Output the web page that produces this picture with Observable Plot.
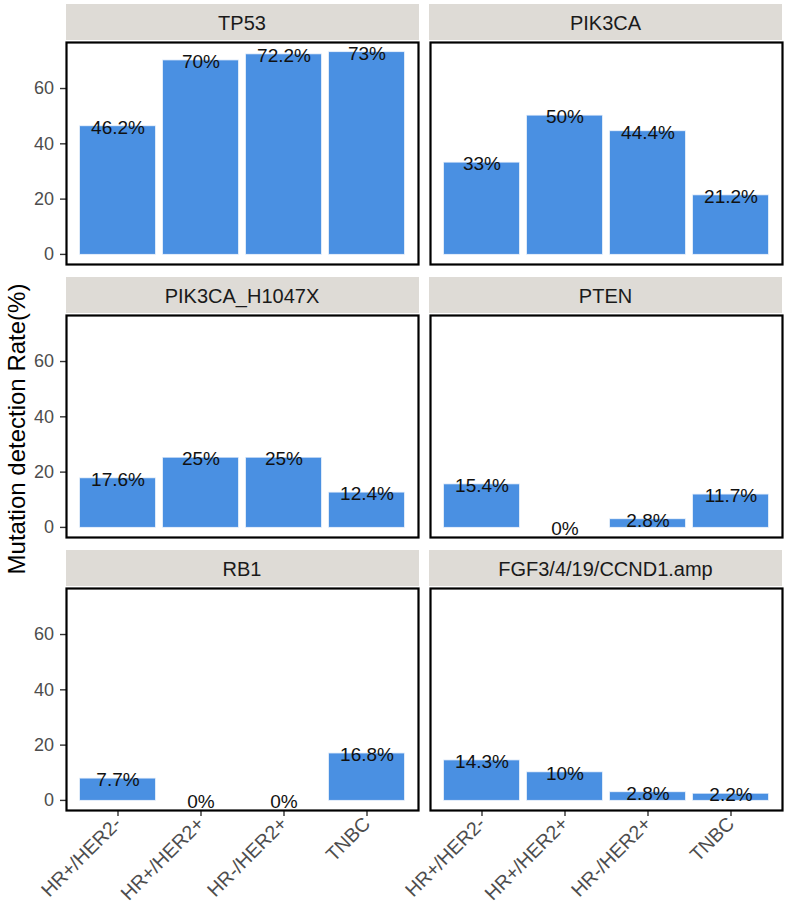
<!DOCTYPE html>
<html>
<head>
<meta charset="utf-8">
<script src="https://cdn.jsdelivr.net/npm/d3@7"></script>
<script src="https://cdn.jsdelivr.net/npm/@observablehq/plot@0.6"></script>
<style>
  html, body { margin: 0; padding: 0; background: #fff; }
  #root { position: relative; width: 785px; height: 911px; font-family: "Liberation Sans", Arial, sans-serif; overflow: hidden; }
  .strip { position: absolute; background: #dedbd6; color: #1a1a1a; font-size: 20px; display: flex; align-items: center; justify-content: center; box-sizing: border-box; padding-top: 4px; }
  .ytitle { position: absolute; white-space: nowrap; font-size: 24px; line-height: 1; color: #000; transform: translate(-50%, -50%) rotate(-90deg); }
  .panel { position: absolute; }
</style>
</head>
<body>
<div id="root"></div>
<script>
// ---- data ----
const categories = ["HR+/HER2-", "HR+/HER2+", "HR-/HER2+", "TNBC"];
const genes = ["TP53", "PIK3CA", "PIK3CA_H1047X", "PTEN", "RB1", "FGF3/4/19/CCND1.amp"];
const tp53 = [46.2, 70, 72.2, 73];
const pik3ca = [33, 50, 44.4, 21.2];
const pik3caH1047X = [17.6, 25, 25, 12.4];
const pten = [15.4, 0, 2.8, 11.7];
const rb1 = [7.7, 0, 0, 16.8];
const fgfCcnd1 = [14.3, 10, 2.8, 2.2];
const yTicks = [0, 20, 40, 60];
const yTitle = "Mutation detection Rate(%)";

const series = [tp53, pik3ca, pik3caH1047X, pten, rb1, fgfCcnd1];
const maxVal = d3.max(series.flat());
const yDomain = [-0.05 * maxVal, maxVal * 1.05];

// ---- layout ----
const root = document.getElementById("root");
const panelXs = [66, 429.5];
const panelYs = [42, 315, 588];
const panelW = 352, panelH = 222;
const barColor = "#4A90E2";

genes.forEach((gene, i) => {
  const col = i % 2, row = Math.floor(i / 2);
  const isLeft = col === 0, isBottom = row === 2;
  const data = categories.map((c, j) => ({cat: c, value: series[i][j]}));
  const mL = isLeft ? 66 : 4, mR = 4, mT = 4, mB = isBottom ? 100 : 4;

  const marks = [
    Plot.barY(data, {x: "cat", y: "value", fill: barColor, stroke: barColor, strokeOpacity: 0.25, strokeWidth: 1.5}),
    Plot.text(data, {x: "cat", y: "value", text: d => d.value + "%", fontSize: 19, fill: "#111", lineAnchor: "middle", dy: 1})
  ];
  if (isLeft) {
    marks.push(Plot.axisY({ticks: yTicks, tickSize: 6, text: null, stroke: "#333", strokeWidth: 1.4}));
    marks.push(Plot.axisY({ticks: yTicks, tickSize: 0, tickPadding: 12.5, fill: "#4d4d4d", fontSize: 18, label: null}));
  }
  if (isBottom) {
    marks.push(Plot.axisX({tickSize: 6, text: null, stroke: "#333", strokeWidth: 1.4}));
    marks.push(Plot.axisX({tickSize: 0, tickPadding: 10, tickRotate: -45, fill: "#4d4d4d", fontSize: 19.5, label: null}));
  }
  marks.push(Plot.frame({stroke: "#000", strokeWidth: 2.2}));

  const chart = Plot.plot({
    width: mL + panelW + mR,
    height: mT + panelH + mB,
    marginLeft: mL, marginRight: mR, marginTop: mT, marginBottom: mB,
    style: {fontFamily: "'Liberation Sans', Arial, sans-serif", background: "transparent", overflow: "visible"},
    x: {type: "band", domain: categories, paddingInner: 0.1, paddingOuter: 0.15, axis: null, label: null},
    y: {domain: yDomain, axis: null, label: null},
    marks
  });
  chart.classList.add("panel");
  chart.style.left = (panelXs[col] - mL) + "px";
  chart.style.top = (panelYs[row] - mT) + "px";
  root.appendChild(chart);

  const strip = document.createElement("div");
  strip.className = "strip";
  strip.textContent = gene;
  strip.style.left = (panelXs[col] - 0.5) + "px";
  strip.style.top = (panelYs[row] - 38) + "px";
  strip.style.width = (panelW + 1) + "px";
  strip.style.height = "35.5px";
  root.appendChild(strip);
});

const yt = document.createElement("div");
yt.className = "ytitle";
yt.textContent = yTitle;
yt.style.left = "17px";
yt.style.top = "429px";
root.appendChild(yt);
</script>
</body>
</html>
